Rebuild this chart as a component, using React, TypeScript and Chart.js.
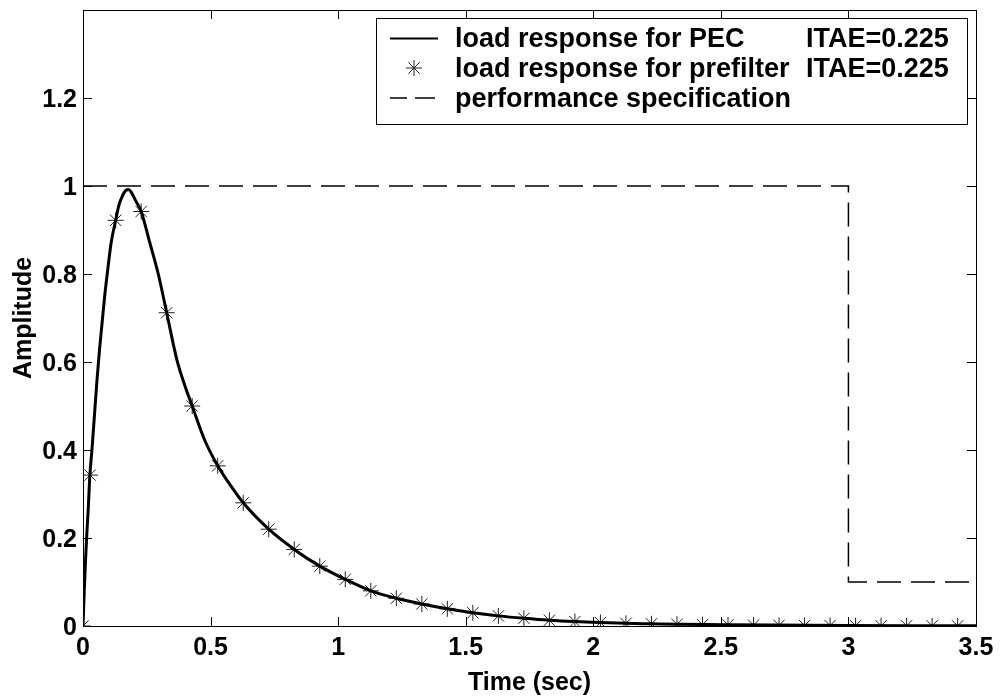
import React, { useEffect, useRef } from "react";
import { Chart, registerables } from "chart.js";
Chart.register(...registerables);

// Continuous load response for PEC (time in sec, amplitude)
const pecT = [0, 0.005, 0.01, 0.015, 0.02, 0.027, 0.035, 0.045, 0.055, 0.065, 0.075, 0.085, 0.095, 0.11, 0.128, 0.14, 0.155, 0.168, 0.178, 0.19, 0.205, 0.228, 0.26, 0.295, 0.328, 0.368, 0.4, 0.428, 0.475, 0.528, 0.58, 0.628, 0.728, 0.828, 0.928, 1.028, 1.128, 1.228, 1.328, 1.428, 1.528, 1.628, 1.728, 1.828, 1.928, 2.028, 2.128, 2.228, 2.328, 2.5, 2.7, 3.0, 3.25, 3.5];
const pecY = [0, 0.08, 0.15, 0.21, 0.26, 0.343, 0.40, 0.48, 0.56, 0.63, 0.69, 0.75, 0.80, 0.87, 0.922, 0.955, 0.978, 0.99, 0.992, 0.985, 0.968, 0.942, 0.875, 0.80, 0.712, 0.605, 0.545, 0.50, 0.425, 0.364, 0.318, 0.28, 0.22, 0.174, 0.136, 0.106, 0.080, 0.063, 0.050, 0.039, 0.030, 0.023, 0.0175, 0.013, 0.010, 0.008, 0.006, 0.005, 0.004, 0.003, 0.002, 0.001, 0.0006, 0.0004];

// Prefilter response markers
const preT = [0, 0.028, 0.128, 0.228, 0.328, 0.428, 0.528, 0.628, 0.728, 0.828, 0.928, 1.028, 1.128, 1.228, 1.328, 1.428, 1.528, 1.628, 1.728, 1.828, 1.928, 2.028, 2.128, 2.228, 2.328, 2.428, 2.528, 2.628, 2.728, 2.828, 2.928, 3.028, 3.128, 3.228, 3.328, 3.428];
const preY = [0, 0.343, 0.922, 0.942, 0.712, 0.50, 0.364, 0.28, 0.22, 0.174, 0.136, 0.106, 0.080, 0.063, 0.050, 0.039, 0.030, 0.023, 0.0175, 0.013, 0.010, 0.008, 0.006, 0.005, 0.004, 0.003, 0.0025, 0.002, 0.0015, 0.001, 0.001, 0.0008, 0.0006, 0.0005, 0.0004, 0.0003];

// Performance specification
const specT = [0, 3, 3, 3.5];
const specY = [1, 1, 0.1, 0.1];

const xTicks = [0, 0.5, 1, 1.5, 2, 2.5, 3, 3.5];
const xTickLabels = ["0", "0.5", "1", "1.5", "2", "2.5", "3", "3.5"];
const yTicks = [0, 0.2, 0.4, 0.6, 0.8, 1, 1.2];
const yTickLabels = ["0", "0.2", "0.4", "0.6", "0.8", "1", "1.2"];
const xTitle = "Time (sec)";
const yTitle = "Amplitude";
const legendLabels = ["load response for PEC", "load response for prefilter", "performance specification"];
const legendNotes = ["ITAE=0.225", "ITAE=0.225", ""];

const FONT_FAMILY = "'Liberation Sans', Arial, sans-serif";

function drawStar(ctx: CanvasRenderingContext2D, cx: number, cy: number, r: number) {
  ctx.beginPath();
  ctx.moveTo(cx - r, cy); ctx.lineTo(cx + r, cy);
  ctx.moveTo(cx, cy - r); ctx.lineTo(cx, cy + r);
  const d = r * 0.7071;
  ctx.moveTo(cx - d, cy - d); ctx.lineTo(cx + d, cy + d);
  ctx.moveTo(cx - d, cy + d); ctx.lineTo(cx + d, cy - d);
  ctx.stroke();
}

const framePlugin = {
  id: "matlabFrame",
  beforeDatasetsDraw(chart: any) {
    const { ctx, chartArea: a, scales } = chart;
    const x = scales.x, y = scales.y;
    ctx.save();
    ctx.strokeStyle = "#000";
    ctx.lineWidth = 1;
    ctx.strokeRect(Math.round(a.left) + 0.5, Math.round(a.top) + 0.5, Math.round(a.right - a.left), Math.round(a.bottom - a.top));
    ctx.beginPath();
    xTicks.forEach((v) => {
      const px = Math.round(x.getPixelForValue(v)) + 0.5;
      ctx.moveTo(px, a.bottom); ctx.lineTo(px, a.bottom - 9);
      ctx.moveTo(px, a.top); ctx.lineTo(px, a.top + 9);
    });
    yTicks.forEach((v) => {
      const py = Math.round(y.getPixelForValue(v)) + 0.5;
      ctx.moveTo(a.left, py); ctx.lineTo(a.left + 9, py);
      ctx.moveTo(a.right, py); ctx.lineTo(a.right - 9, py);
    });
    ctx.stroke();

    // tick labels
    ctx.fillStyle = "#000";
    ctx.font = `bold 25px ${FONT_FAMILY}`;
    ctx.textBaseline = "alphabetic";
    ctx.textAlign = "center";
    xTicks.forEach((v, i) => {
      ctx.fillText(xTickLabels[i], x.getPixelForValue(v), a.bottom + 29);
    });
    ctx.textAlign = "right";
    yTicks.forEach((v, i) => {
      ctx.fillText(yTickLabels[i], a.left - 6, y.getPixelForValue(v) + 9);
    });
    ctx.restore();
  },
  afterDraw(chart: any) {
    const { ctx, chartArea: a } = chart;
    ctx.save();
    // axis titles
    ctx.fillStyle = "#000";
    ctx.font = `bold 25px ${FONT_FAMILY}`;
    ctx.textAlign = "center";
    ctx.textBaseline = "middle";
    ctx.fillText(xTitle, (a.left + a.right) / 2, 683);
    ctx.save();
    ctx.translate(24, (a.top + a.bottom) / 2);
    ctx.rotate(-Math.PI / 2);
    ctx.fillText(yTitle, 0, 0);
    ctx.restore();

    // legend
    const lx = 376, ly = 18, lw = 591, lh = 106;
    ctx.fillStyle = "#fff";
    ctx.fillRect(lx, ly, lw, lh);
    ctx.strokeStyle = "#000";
    ctx.lineWidth = 1;
    ctx.strokeRect(lx + 0.5, ly + 0.5, lw, lh);

    const rows = [38, 68, 98];
    ctx.lineWidth = 2;
    ctx.beginPath();
    ctx.moveTo(390, rows[0] + 0.5); ctx.lineTo(438, rows[0] + 0.5);
    ctx.stroke();
    ctx.lineWidth = 1;
    ctx.strokeStyle = "#222";
    drawStar(ctx, 414, rows[1], 8);
    ctx.strokeStyle = "#000";
    ctx.lineWidth = 1.5;
    ctx.beginPath();
    ctx.moveTo(390, rows[2]); ctx.lineTo(407, rows[2]);
    ctx.moveTo(415, rows[2]); ctx.lineTo(435, rows[2]);
    ctx.stroke();

    ctx.fillStyle = "#000";
    ctx.font = `bold 27px ${FONT_FAMILY}`;
    ctx.textAlign = "left";
    ctx.textBaseline = "alphabetic";
    legendLabels.forEach((t, i) => {
      ctx.fillText(t, 455, rows[i] + 9);
      if (legendNotes[i]) ctx.fillText(legendNotes[i], 806, rows[i] + 9);
    });
    ctx.restore();
  },
};

export default function App() {
  const ref = useRef<HTMLCanvasElement | null>(null);
  useEffect(() => {
    document.body.style.margin = "0";
    const canvas = ref.current;
    if (!canvas) return;
    const chart = new Chart(canvas, {
      type: "line",
      data: {
        datasets: [
          {
            label: legendLabels[0],
            data: pecT.map((t, i) => ({ x: t, y: pecY[i] })),
            borderColor: "#000",
            borderWidth: 3,
            pointRadius: 0,
            cubicInterpolationMode: "monotone",
            fill: false,
          },
          {
            label: legendLabels[1],
            data: preT.map((t, i) => ({ x: t, y: preY[i] })),
            showLine: false,
            pointStyle: "star",
            pointRadius: 8,
            pointBorderWidth: 1,
            pointBorderColor: "#222",
            pointBackgroundColor: "#222",
            borderColor: "#222",
          },
          {
            label: legendLabels[2],
            data: specT.map((t, i) => ({ x: t, y: specY[i] })),
            borderColor: "#000",
            borderWidth: 1.5,
            borderDash: [24, 10],
            pointRadius: 0,
            tension: 0,
            fill: false,
          },
        ],
      },
      options: {
        responsive: false,
        animation: false,
        devicePixelRatio: 1,
        layout: { padding: { top: 10, right: 25, left: 0, bottom: 0 } },
        plugins: { legend: { display: false }, tooltip: { enabled: false } },
        scales: {
          x: {
            type: "linear",
            min: 0,
            max: 3.5,
            afterBuildTicks: (s: any) => { s.ticks = xTicks.map((v) => ({ value: v })); },
            afterFit: (s: any) => { s.height = 70; },
            ticks: { display: false },
            grid: { display: false, drawTicks: false },
            border: { display: false },
          },
          y: {
            type: "linear",
            min: 0,
            max: 1.4,
            afterBuildTicks: (s: any) => { s.ticks = yTicks.map((v) => ({ value: v })); },
            afterFit: (s: any) => { s.width = 83; },
            ticks: { display: false },
            grid: { display: false, drawTicks: false },
            border: { display: false },
          },
        },
      },
      plugins: [framePlugin],
    } as any);
    return () => chart.destroy();
  }, []);
  return (
    <div style={{ width: 1001, height: 696, background: "#fff" }}>
      <canvas ref={ref} width={1001} height={696} style={{ display: "block" }} />
    </div>
  );
}
